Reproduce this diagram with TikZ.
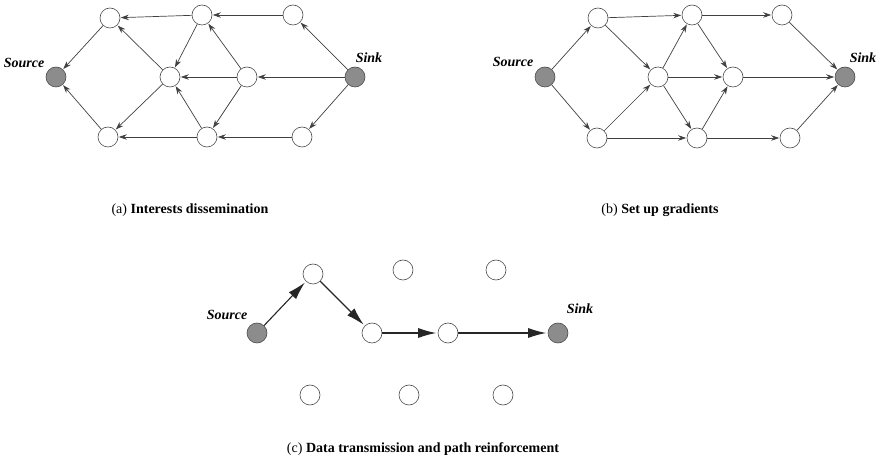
\documentclass[tikz,border=0pt]{standalone}
\usepackage{fontspec}
\setmainfont{Liberation Serif}
\usetikzlibrary{arrows,arrows.meta}

\begin{document}
\begin{tikzpicture}[x=1pt,y=-1pt,->,>={Stealth[length=8pt,width=5.5pt]},shorten >=0.5pt,
  line width=0.7pt,draw=black!75]
  \tikzstyle{sensor}=[circle,draw=black!70,fill=white,minimum size=20pt,inner sep=0pt,line width=0.6pt]
  \tikzstyle{endpt}=[sensor,fill=black!45]
  \tikzstyle{tag}=[font=\fontsize{14}{16}\selectfont\bfseries\itshape]
  \tikzstyle{caption}=[font=\fontsize{14}{16}\selectfont]
  \tikzstyle{strong}=[line width=1.1pt,-{Latex[length=18pt,width=10pt]},shorten >=1.5pt,draw=black!85]

  \useasboundingbox (0,0) rectangle (879,462);

  % (a)
  \node[endpt]  (aS) at (56,77)  {};
  \node[sensor] (a1) at (110,18) {};
  \node[sensor] (a2) at (202,15) {};
  \node[sensor] (a3) at (293,15) {};
  \node[sensor] (a4) at (170,77) {};
  \node[sensor] (a5) at (247,77) {};
  \node[endpt]  (aK) at (355,77) {};
  \node[sensor] (a6) at (108,137) {};
  \node[sensor] (a7) at (207,137) {};
  \node[sensor] (a8) at (302,137) {};
  \node[tag] (aSrc) at (24,63) {Source};
  \node[tag] (aSnk) at (369,58) {Sink};

  \path (a2) edge (a1)
        (a3) edge (a2)
        (aK) edge (a3)
        (aK) edge (a5)
        (a5) edge (a4)
        (a5) edge (a2)
        (a2) edge (a4)
        (a4) edge (a1)
        (a1) edge (aS)
        (a6) edge (aS)
        (a4) edge (a6)
        (a7) edge (a4)
        (a5) edge (a7)
        (a7) edge (a6)
        (a8) edge (a7)
        (aK) edge (a8)
        ;
  \node[caption] (capA) at (190,210) {(a) \textbf{Interests dissemination}};

  % (b)
  \node[endpt]  (bS) at (545,77)  {};
  \node[sensor] (b1) at (598,18)  {};
  \node[sensor] (b2) at (692,15)  {};
  \node[sensor] (b3) at (782,15)  {};
  \node[sensor] (b4) at (658,77)  {};
  \node[sensor] (b5) at (733,77)  {};
  \node[endpt]  (bK) at (845,77)  {};
  \node[sensor] (b6) at (597,138) {};
  \node[sensor] (b7) at (697,138) {};
  \node[sensor] (b8) at (790,138) {};
  \node[tag] (bSrc) at (513,62) {Source};
  \node[tag] (bSnk) at (863,58) {Sink};

  \path (bS) edge (b1)
        (bS) edge (b6)
        (b1) edge (b2)
        (b1) edge (b4)
        (b2) edge (b3)
        (b2) edge (b5)
        (b3) edge (bK)
        (b4) edge (b2)
        (b4) edge (b5)
        (b4) edge (b7)
        (b5) edge (bK)
        (b6) edge (b4)
        (b6) edge (b7)
        (b7) edge (b5)
        (b7) edge (b8)
        (b8) edge (bK)
        ;
  \node[caption] (capB) at (660,210) {(b) \textbf{Set up gradients}};

  % (c)
  \node[endpt]  (cS) at (257,333) {};
  \node[sensor] (c1) at (313,274) {};
  \node[sensor] (c2) at (403,270) {};
  \node[sensor] (c3) at (496,270) {};
  \node[sensor] (c4) at (372,333) {};
  \node[sensor] (c5) at (448,333) {};
  \node[endpt]  (cK) at (558,333) {};
  \node[sensor] (c6) at (310,395) {};
  \node[sensor] (c7) at (409,395) {};
  \node[sensor] (c8) at (503,395) {};
  \node[tag] (cSrc) at (227,315) {Source};
  \node[tag] (cSnk) at (580,309) {Sink};

  \draw[strong] (cS) -- (c1);
  \draw[strong] (c1) -- (c4);
  \draw[strong] (c4) -- (c5);
  \draw[strong] (c5) -- (cK);
  \node[caption] (capC) at (423,449) {(c) \textbf{Data transmission and path reinforcement}};
\end{tikzpicture}
\end{document}
